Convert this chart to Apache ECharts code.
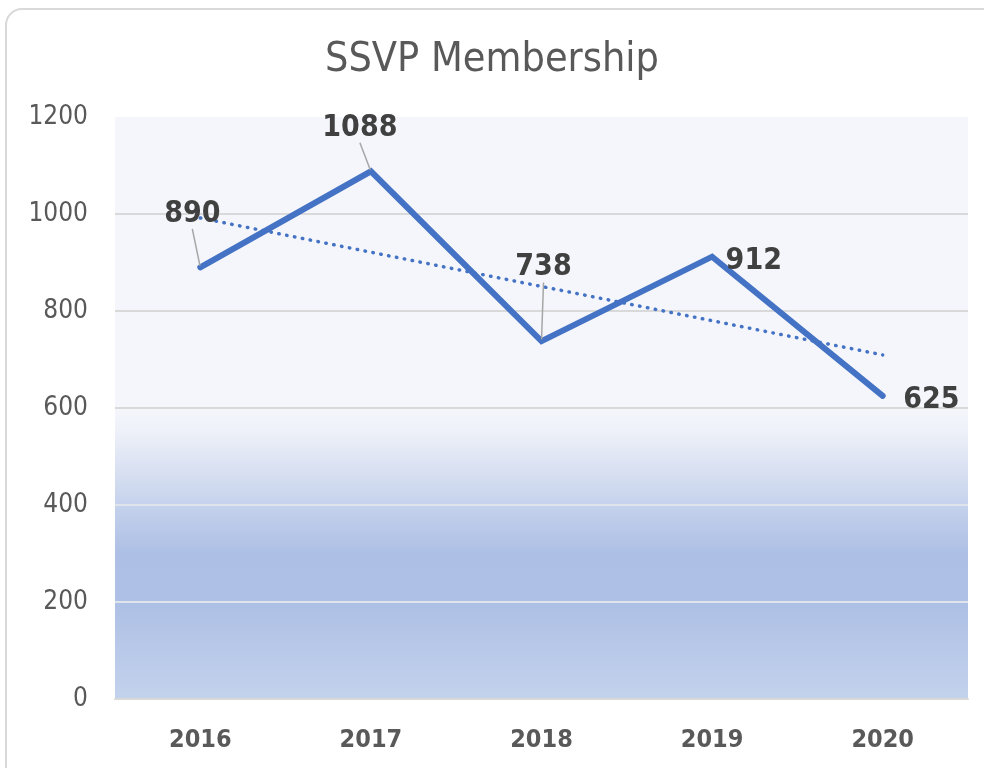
<!DOCTYPE html>
<html>
<head>
<meta charset="utf-8">
<script src="https://cdn.jsdelivr.net/npm/echarts@6/dist/echarts.min.js"></script>
<style>
html,body{margin:0;padding:0;background:#fff;}
#main{width:984px;height:768px;}
</style>
</head>
<body>
<div id="main"></div>
<script>
const years = ['2016', '2017', '2018', '2019', '2020'];
const members = [890, 1088, 738, 912, 625];
const yTicks = [0, 200, 400, 600, 800, 1000, 1200];

// linear trendline (least squares) of the membership series
const n = members.length;
const mx = (n + 1) / 2;
const my = members.reduce((a, b) => a + b, 0) / n;
let sxy = 0, sxx = 0;
members.forEach((v, i) => { sxy += (i + 1 - mx) * (v - my); sxx += (i + 1 - mx) * (i + 1 - mx); });
const slope = sxy / sxx;
const trend = members.map((v, i) => +(my + slope * (i + 1 - mx)).toFixed(2));

const FONT = '"Liberation Sans Narrow", "DejaVu Sans Condensed", sans-serif';
const labelMoves = [[-8, -27], [-11, -17], [2, -47], [2, 5], [9, 4]];
const labelPos = ['top', 'top', 'top', 'right', 'right'];
const labelLineOn = [true, true, true, false, false];

const chart = echarts.init(document.getElementById('main'), null, {renderer: 'canvas'});
chart.setOption({
  backgroundColor: '#ffffff',
  animation: false,
  title: {
    text: 'SSVP Membership',
    left: 'center',
    top: 35,
    textStyle: {fontFamily: FONT, fontSize: 41, fontWeight: 'normal', color: '#595959'}
  },
  graphic: [{
    type: 'rect', z: -10,
    shape: {x: 6, y: 9, width: 1000, height: 790, r: 16},
    style: {fill: 'none', stroke: '#d9d9d9', lineWidth: 2}
  }],
  grid: {
    left: 115, right: 16, top: 117, bottom: 69,
    show: true, borderWidth: 0,
    backgroundColor: new echarts.graphic.LinearGradient(0, 0, 0, 1, [
      {offset: 0, color: '#f4f6fb'},
      {offset: 0.5, color: '#f4f6fb'},
      {offset: 0.54, color: '#eef1f9'},
      {offset: 0.6, color: '#dbe2f2'},
      {offset: 0.67, color: '#c4d1ec'},
      {offset: 0.75, color: '#adbfe5'},
      {offset: 0.84, color: '#aec0e5'},
      {offset: 1, color: '#c3d2ec'}
    ])
  },
  xAxis: {
    type: 'category',
    data: years,
    boundaryGap: true,
    axisLine: {show: true, lineStyle: {color: '#d9d9d9', width: 2}},
    axisTick: {show: false},
    axisLabel: {fontFamily: FONT, fontSize: 25, fontWeight: 'bold', color: '#595959', margin: 29}
  },
  yAxis: {
    type: 'value',
    min: 0, max: 1200, interval: 200,
    axisLine: {show: false},
    axisTick: {show: false},
    axisLabel: {fontFamily: FONT, fontSize: 26, color: '#595959', margin: 27,
      formatter: v => yTicks.includes(v) ? String(v) : ''},
    splitLine: {lineStyle: {color: ['#d9d9d9', '#dfe3ea', '#dfe3ea', '#d9d9d9', '#d9d9d9', '#d9d9d9', 'rgba(0,0,0,0)'], width: 2}}
  },
  series: [
    {
      name: 'Trend',
      type: 'line',
      data: trend,
      symbol: 'none',
      silent: true,
      z: 2,
      lineStyle: {color: '#4472c4', width: 3.5, type: [0.5, 7.5], cap: 'round'}
    },
    {
      name: 'Membership',
      type: 'line',
      data: members.map((v, i) => ({
        value: v,
        label: {position: labelPos[i]},
        labelLine: {show: labelLineOn[i]}
      })),
      symbol: 'circle',
      symbolSize: 3,
      showSymbol: true,
      itemStyle: {color: '#4472c4'},
      lineStyle: {color: '#4472c4', width: 6, cap: 'round', join: 'miter'},
      z: 3,
      label: {
        show: true,
        fontFamily: FONT,
        fontSize: 30,
        fontWeight: 'bold',
        color: '#404040',
        distance: 10
      },
      labelLine: {show: true, lineStyle: {color: '#a6a6a6', width: 1.5}},
      labelLayout: function (p) {
        const m = labelMoves[p.dataIndex];
        return {dx: m[0], dy: m[1]};
      }
    }
  ]
});
</script>
</body>
</html>
